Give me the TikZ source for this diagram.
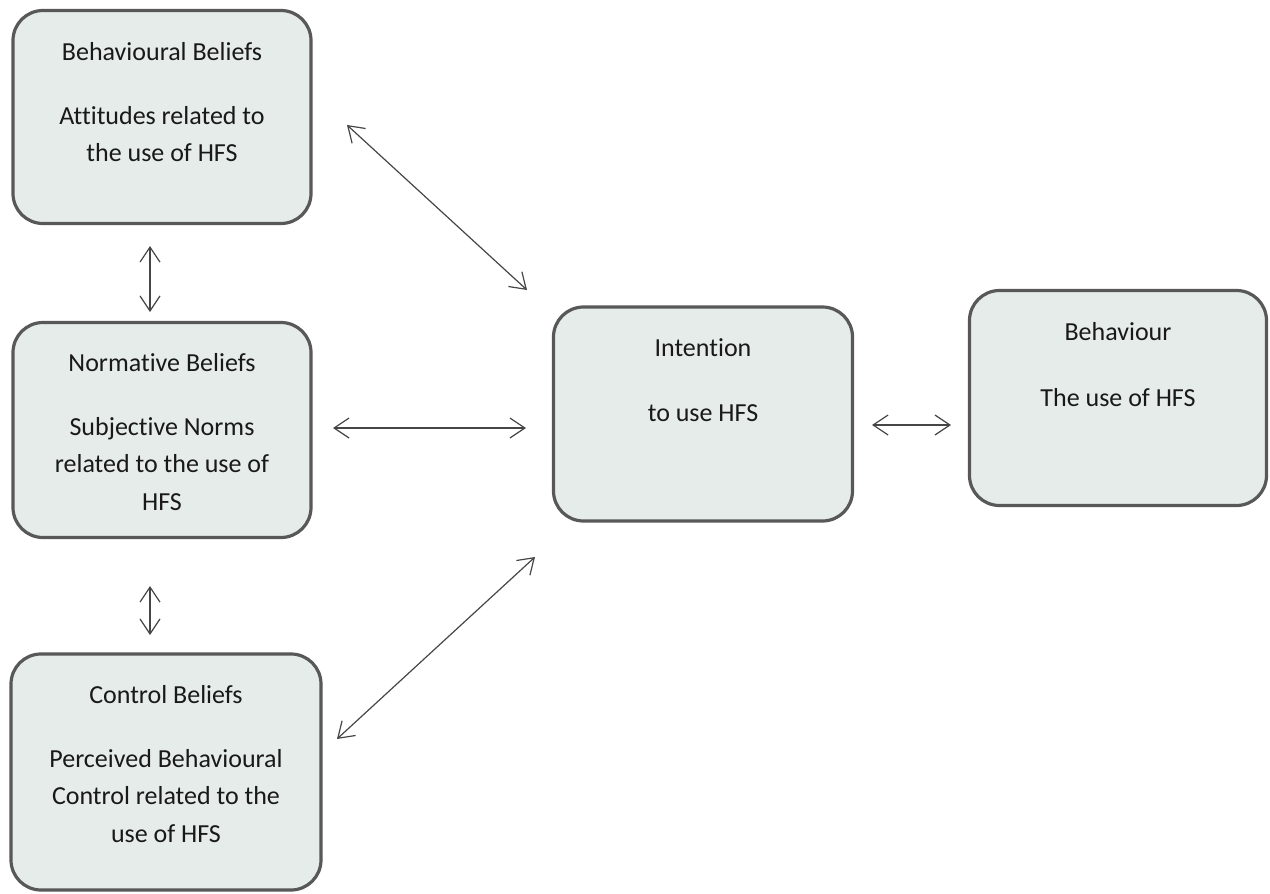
\documentclass[tikz,border=0pt]{standalone}
\usepackage{fontspec}
\setmainfont{Carlito}[Ligatures=NoCommon]
\usetikzlibrary{arrows.meta}
\definecolor{boxfill}{RGB}{229,236,234}
\definecolor{boxline}{RGB}{88,88,88}
\definecolor{arrline}{RGB}{70,70,70}
\tikzset{
  box/.style={draw=boxline, line width=3.2pt, fill=boxfill, rounded corners=30pt, inner sep=0pt},
  txt/.style={font=\fontsize{26}{37.5}\selectfont, align=center, inner sep=0pt, text=black!90},
  link/.style={draw=arrline, line width=1.2pt, {Straight Barb[length=15pt,width=20pt]}-{Straight Barb[length=15pt,width=20pt]}}
}
\begin{document}
\begin{tikzpicture}[x=1pt,y=-1pt]
\useasboundingbox (0,0) rectangle (1270,894);
% boxes
\node[box, minimum width=298pt, minimum height=213pt] (bb) at (162,117) {};
\node[box, minimum width=298pt, minimum height=215pt] (nb) at (162,430) {};
\node[box, minimum width=310pt, minimum height=236pt] (cb) at (166,772) {};
\node[box, minimum width=299pt, minimum height=214pt] (in) at (703,414) {};
\node[box, minimum width=297pt, minimum height=215pt] (be) at (1118,398) {};
% texts
\node[txt] (bbt) at (162,52) {Behavioural Beliefs};
\node[txt] (bbs) at (162,134) {Attitudes related to\\the use of HFS};
\node[txt] (nbt) at (162,363) {Normative Beliefs};
\node[txt] (nbs) at (162,464) {Subjective Norms\\related to the use of\\HFS};
\node[txt] (cbt) at (166,695) {Control Beliefs};
\node[txt] (cbs) at (166,796) {Perceived Behavioural\\Control related to the\\use of HFS};
\node[txt] (int) at (703,348) {Intention};
\node[txt] (ins) at (703,413) {to use HFS};
\node[txt] (bet) at (1118,332) {Behaviour};
\node[txt] (bes) at (1118,398) {The use of HFS};
% arrow end points
\coordinate (a1) at (347,125); \coordinate (a2) at (527,290);
\coordinate (v1) at (150,246); \coordinate (v2) at (150,312);
\coordinate (v3) at (150,586); \coordinate (v4) at (150,635);
\coordinate (h1) at (333,428); \coordinate (h2) at (526,428);
\coordinate (d1) at (337,739); \coordinate (d2) at (535,557);
\coordinate (r1) at (872,425); \coordinate (r2) at (951,425);
\draw[link] (a1) -- (a2);
\draw[link] (v1) -- (v2);
\draw[link] (v3) -- (v4);
\draw[link] (h1) -- (h2);
\draw[link] (d1) -- (d2);
\draw[link] (r1) -- (r2);
\end{tikzpicture}
\end{document}
